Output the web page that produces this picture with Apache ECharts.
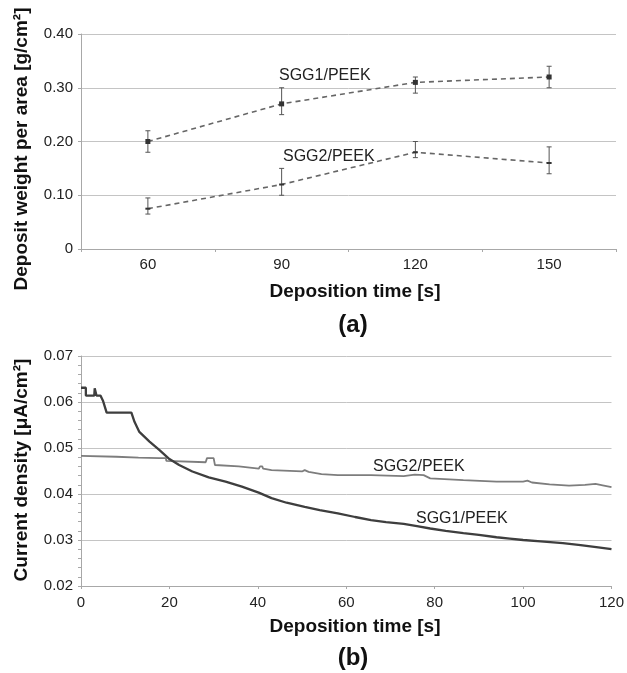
<!DOCTYPE html>
<html>
<head>
<meta charset="utf-8">
<script src="https://cdn.jsdelivr.net/npm/echarts@6/dist/echarts.min.js"></script>
<style>
html,body{margin:0;padding:0;background:#fff;}
#chart{width:627px;height:673px;}
</style>
</head>
<body>
<div id="chart"></div>
<script>
// ---- Panel (a): deposit weight per area ----
var depositTimes = ['60', '90', '120', '150'];
var sgg1Weight = [0.20, 0.27, 0.31, 0.32];
var sgg1Low    = [0.18, 0.25, 0.29, 0.30];
var sgg1High   = [0.22, 0.30, 0.32, 0.34];
var sgg2Weight = [0.075, 0.12, 0.18, 0.16];
var sgg2Low    = [0.065, 0.10, 0.17, 0.14];
var sgg2High   = [0.095, 0.15, 0.20, 0.19];

// ---- Panel (b): current density vs time ----
var sgg1Time = [0, 1.1, 1.1, 3.0, 3.1, 3.4, 3.5, 4.4, 5.0, 5.8, 11.4, 12.1, 13.2, 15.5, 17.7, 20, 22.2, 25.2, 28.9, 32.7, 36.4, 40.2, 43.1, 46.5, 50.6, 54, 58.1, 62, 65.6, 69, 73, 76, 79, 82.5, 86.5, 90, 94, 97, 100, 104, 109, 113, 117, 120];
var sgg1Current = [0.0631, 0.0631, 0.0614, 0.0614, 0.0630, 0.0630, 0.0614, 0.0614, 0.0602, 0.0577, 0.0577, 0.0557, 0.0535, 0.0514, 0.0496, 0.0476, 0.0463, 0.0449, 0.0436, 0.0427, 0.0416, 0.0403, 0.0391, 0.0381, 0.0372, 0.0365, 0.0358, 0.0350, 0.0343, 0.0339, 0.0335, 0.0330, 0.0325, 0.0320, 0.0315, 0.0311, 0.0306, 0.0303, 0.0300, 0.0297, 0.0293, 0.0289, 0.0284, 0.0280];
var sgg2Time = [0, 8, 13, 17.7, 19.2, 19.3, 28.2, 28.5, 30.0, 30.3, 35.7, 40.2, 40.5, 41.0, 41.2, 43.1, 50.0, 50.6, 51.5, 54.4, 58.1, 65.6, 73, 75.5, 77.5, 79, 86.5, 94, 100, 101, 102, 106, 110.4, 114, 116.4, 118, 120];
var sgg2Current = [0.0483, 0.0481, 0.0479, 0.0478, 0.0478, 0.0472, 0.0469, 0.0478, 0.0478, 0.0463, 0.0460, 0.0455, 0.0460, 0.0460, 0.0455, 0.0452, 0.0449, 0.0452, 0.0448, 0.0443, 0.0441, 0.0441, 0.0439, 0.0442, 0.0441, 0.0434, 0.0430, 0.0427, 0.0427, 0.0429, 0.0425, 0.0421, 0.0418, 0.0420, 0.0422, 0.0419, 0.0415];

function zip(a, b) { return a.map(function (v, i) { return [v, b[i]]; }); }
function errData(low, high) { return low.map(function (v, i) { return [i, v, high[i]]; }); }

var FONT = "'Liberation Sans', Arial, sans-serif";
var TXT = '#222';
var AXIS = '#a8a8a8';
var GRID = '#c4c4c4';

function errorBar(params, api) {
  var x = api.value(0);
  var lo = api.coord([x, api.value(1)]);
  var hi = api.coord([x, api.value(2)]);
  var cap = 2.5;
  var st = { stroke: '#555', lineWidth: 1 };
  return {
    type: 'group',
    children: [
      { type: 'line', shape: { x1: lo[0], y1: lo[1], x2: hi[0], y2: hi[1] }, style: st },
      { type: 'line', shape: { x1: lo[0] - cap, y1: lo[1], x2: lo[0] + cap, y2: lo[1] }, style: st },
      { type: 'line', shape: { x1: hi[0] - cap, y1: hi[1], x2: hi[0] + cap, y2: hi[1] }, style: st }
    ]
  };
}

var chart = echarts.init(document.getElementById('chart'), null, { renderer: 'canvas' });
chart.setOption({
  backgroundColor: '#fff',
  animation: false,
  textStyle: { fontFamily: FONT },
  grid: [
    { left: 81, right: 11, top: 34, height: 215 },
    { left: 81, right: 11, top: 356, height: 230 }
  ],
  xAxis: [
    {
      type: 'category', gridIndex: 0, data: depositTimes, boundaryGap: true,
      axisLine: { lineStyle: { color: AXIS, width: 1 } },
      axisTick: { show: true, alignWithLabel: false, length: 3, lineStyle: { color: AXIS } },
      axisLabel: { color: TXT, fontSize: 15, fontFamily: FONT, margin: 8 },
      splitLine: { show: false }
    },
    {
      type: 'value', gridIndex: 1, min: 0, max: 120, interval: 20,
      axisLine: { show: true, lineStyle: { color: AXIS, width: 1 } },
      axisTick: { show: true, length: 3, lineStyle: { color: AXIS } },
      axisLabel: { color: TXT, fontSize: 15, fontFamily: FONT, margin: 9 },
      splitLine: { show: false }
    }
  ],
  yAxis: [
    {
      type: 'value', gridIndex: 0, min: 0, max: 0.4, interval: 0.1,
      axisLine: { show: true, lineStyle: { color: AXIS, width: 1 } },
      axisTick: { show: true, length: 3, lineStyle: { color: AXIS } },
      axisLabel: {
        color: TXT, fontSize: 15, fontFamily: FONT, margin: 8,
        formatter: function (v) { return v === 0 ? '0' : v.toFixed(2); }
      },
      splitLine: { show: true, lineStyle: { color: GRID, width: 1 } }
    },
    {
      type: 'value', gridIndex: 1, min: 0.02, max: 0.07, interval: 0.01,
      axisLine: { show: true, lineStyle: { color: AXIS, width: 1 } },
      axisTick: { show: true, length: 3, lineStyle: { color: AXIS } },
      minorTick: { show: true, splitNumber: 5, length: 3, lineStyle: { color: AXIS } },
      axisLabel: {
        color: TXT, fontSize: 15, fontFamily: FONT, margin: 8,
        formatter: function (v) { return v.toFixed(2); }
      },
      splitLine: { show: true, lineStyle: { color: GRID, width: 1 } }
    }
  ],
  series: [
    {
      name: 'SGG1/PEEK (a)', type: 'line', xAxisIndex: 0, yAxisIndex: 0,
      data: sgg1Weight, symbol: 'rect', symbolSize: 5,
      itemStyle: { color: '#333' },
      lineStyle: { color: '#666', width: 1.6, type: [5, 4] }
    },
    {
      name: 'SGG2/PEEK (a)', type: 'line', xAxisIndex: 0, yAxisIndex: 0,
      data: sgg2Weight, symbol: 'rect', symbolSize: [5, 2],
      itemStyle: { color: '#333' },
      lineStyle: { color: '#666', width: 1.6, type: [5, 4] }
    },
    {
      type: 'custom', xAxisIndex: 0, yAxisIndex: 0, renderItem: errorBar,
      encode: { x: 0, y: [1, 2] }, data: errData(sgg1Low, sgg1High), z: 3
    },
    {
      type: 'custom', xAxisIndex: 0, yAxisIndex: 0, renderItem: errorBar,
      encode: { x: 0, y: [1, 2] }, data: errData(sgg2Low, sgg2High), z: 3
    },
    {
      name: 'SGG2/PEEK (b)', type: 'line', xAxisIndex: 1, yAxisIndex: 1,
      data: zip(sgg2Time, sgg2Current), symbol: 'none',
      lineStyle: { color: '#7d7d7d', width: 1.8 }
    },
    {
      name: 'SGG1/PEEK (b)', type: 'line', xAxisIndex: 1, yAxisIndex: 1,
      data: zip(sgg1Time, sgg1Current), symbol: 'none',
      lineStyle: { color: '#3e3e3e', width: 2.3 }
    }
  ],
  graphic: [
    { type: 'text', x: 279, y: 76, style: { text: 'SGG1/PEEK', font: '16px ' + FONT, fill: TXT, align: 'left', verticalAlign: 'middle' } },
    { type: 'text', x: 283, y: 157, style: { text: 'SGG2/PEEK', font: '16px ' + FONT, fill: TXT, align: 'left', verticalAlign: 'middle' } },
    { type: 'text', x: 373, y: 467, style: { text: 'SGG2/PEEK', font: '16px ' + FONT, fill: TXT, align: 'left', verticalAlign: 'middle' } },
    { type: 'text', x: 416, y: 519, style: { text: 'SGG1/PEEK', font: '16px ' + FONT, fill: TXT, align: 'left', verticalAlign: 'middle' } },
    { type: 'text', x: 355, y: 292, style: { text: 'Deposition time [s]', font: 'bold 19px ' + FONT, fill: '#111', align: 'center', verticalAlign: 'middle' } },
    { type: 'text', x: 355, y: 627, style: { text: 'Deposition time [s]', font: 'bold 19px ' + FONT, fill: '#111', align: 'center', verticalAlign: 'middle' } },
    { type: 'text', x: 353, y: 325, style: { text: '(a)', font: 'bold 24px ' + FONT, fill: '#111', align: 'center', verticalAlign: 'middle' } },
    { type: 'text', x: 353, y: 658, style: { text: '(b)', font: 'bold 24px ' + FONT, fill: '#111', align: 'center', verticalAlign: 'middle' } },
    { type: 'text', x: 22, y: 149, rotation: Math.PI / 2, style: { text: 'Deposit weight per area [g/cm²]', font: 'bold 19px ' + FONT, fill: '#111', align: 'center', verticalAlign: 'middle' } },
    { type: 'text', x: 22, y: 470, rotation: Math.PI / 2, style: { text: 'Current density [μA/cm²]', font: 'bold 19px ' + FONT, fill: '#111', align: 'center', verticalAlign: 'middle' } }
  ]
});
</script>
</body>
</html>
